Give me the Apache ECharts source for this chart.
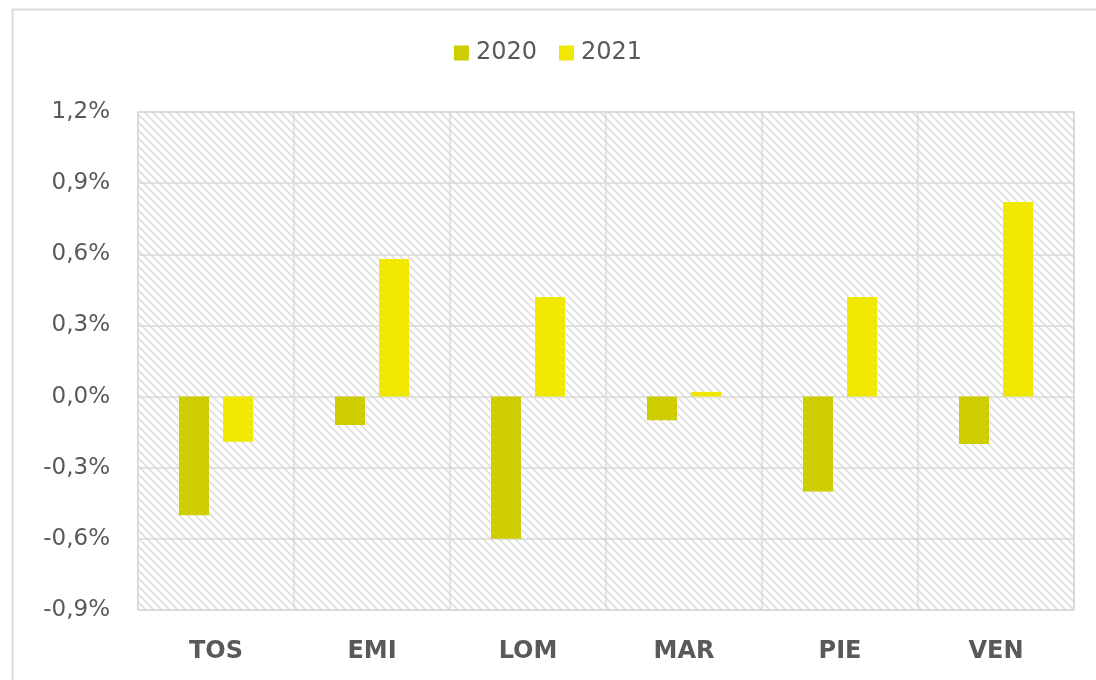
<!DOCTYPE html>
<html>
<head>
<meta charset="utf-8">
<script src="https://cdn.jsdelivr.net/npm/echarts@6/dist/echarts.min.js"></script>
<style>
html,body{margin:0;padding:0;background:#fff;}
#chart{width:1096px;height:680px;}
</style>
</head>
<body>
<div id="chart"></div>
<script>
const categories = ['TOS', 'EMI', 'LOM', 'MAR', 'PIE', 'VEN'];
const seriesNames = ['2020', '2021'];
const values2020 = [-0.50, -0.12, -0.60, -0.10, -0.40, -0.20];
const values2021 = [-0.19, 0.58, 0.42, 0.02, 0.42, 0.82];
const yMin = -0.9, yMax = 1.2, yStep = 0.3;

// hatch pattern
const pc = document.createElement('canvas');
pc.width = 8; pc.height = 8;
const px = pc.getContext('2d');
px.fillStyle = '#ffffff';
px.fillRect(0, 0, 8, 8);
px.strokeStyle = '#dedede';
px.lineWidth = 1.6;
px.beginPath();
px.moveTo(-2, -2); px.lineTo(10, 10);
px.moveTo(-10, -2); px.lineTo(2, 10);
px.moveTo(6, -2); px.lineTo(18, 10);
px.stroke();

const chart = echarts.init(document.getElementById('chart'));
const font = 'DejaVu Sans, Verdana, sans-serif';
chart.setOption({
  animation: false,
  graphic: [{
    type: 'rect', z: -10,
    shape: {x: 12.5, y: 9.5, width: 1200, height: 800},
    style: {fill: '#fff', stroke: '#d9d9d9', lineWidth: 2}
  }],
  legend: {
    data: seriesNames,
    top: 36, left: 'center',
    itemWidth: 15, itemHeight: 15, itemGap: 22,
    icon: 'rect',
    textStyle: {fontFamily: font, fontSize: 24, color: '#595959', padding: [0,0,0,2]}
  },
  grid: {
    left: 138, right: 22, top: 112, bottom: 70,
    show: true,
    backgroundColor: {image: pc, repeat: 'repeat'},
    borderColor: '#d9d9d9', borderWidth: 1.5
  },
  xAxis: {
    type: 'category',
    data: categories,
    position: 'bottom',
    axisLine: {show: false, onZero: false},
    axisTick: {show: false},
    splitLine: {show: true, lineStyle: {color: '#d9d9d9', width: 1.5}},
    axisLabel: {fontFamily: font, fontSize: 24, fontWeight: 'bold', color: '#595959', margin: 30}
  },
  yAxis: {
    type: 'value',
    min: yMin, max: yMax, interval: yStep,
    axisLine: {show: false},
    axisTick: {show: false},
    splitLine: {show: true, lineStyle: {color: '#d9d9d9', width: 1.5}},
    axisLabel: {
      fontFamily: font, fontSize: 23, color: '#595959', margin: 28,
      formatter: v => v.toFixed(1).replace('.', ',') + '%'
    }
  },
  series: [
    {name: seriesNames[0], type: 'bar', data: values2020, barWidth: 30, barGap: '47%',
     itemStyle: {color: '#cdcd00'}},
    {name: seriesNames[1], type: 'bar', data: values2021, barWidth: 30, barGap: '47%',
     itemStyle: {color: '#f0e800'}}
  ]
});
</script>
</body>
</html>
